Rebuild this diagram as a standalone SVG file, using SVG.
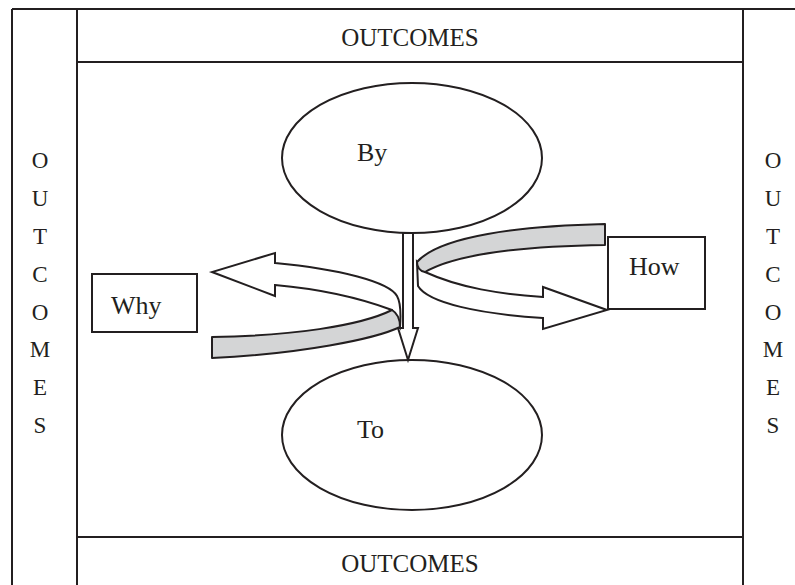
<svg xmlns="http://www.w3.org/2000/svg" width="795" height="585" viewBox="0 0 795 585">
<style>
.ln{stroke:#231f20;stroke-width:2;fill:none}
.shape{stroke:#231f20;stroke-width:2;fill:#fff}
.grey{stroke:#231f20;stroke-width:2;fill:#d4d5d6;stroke-linejoin:round}
.white{stroke:#231f20;stroke-width:2;fill:#fff;stroke-linejoin:miter}
text{font-family:"Liberation Serif","DejaVu Serif",serif;fill:#231f20;font-size:26px}
.v{text-anchor:middle;font-size:23px}
.c{text-anchor:middle;font-size:25px}
</style>
<rect width="795" height="585" fill="#fff"/>
<g id="frame">
<line class="ln" x1="12" y1="9" x2="795" y2="9"/>
<line class="ln" x1="12" y1="9" x2="12" y2="585"/>
<line class="ln" x1="77" y1="9" x2="77" y2="585"/>
<line class="ln" x1="743" y1="9" x2="743" y2="585"/>
<line class="ln" x1="77" y1="62" x2="743" y2="62"/>
<line class="ln" x1="77" y1="537" x2="743" y2="537"/>
</g>
<g id="outcomes-top"><text class="c" x="410" y="46">OUTCOMES</text></g>
<g id="outcomes-bottom"><text class="c" x="410" y="572">OUTCOMES</text></g>
<g id="outcomes-left">
<text class="v" x="40" y="168">O</text>
<text class="v" x="40" y="206">U</text>
<text class="v" x="40" y="244">T</text>
<text class="v" x="40" y="282">C</text>
<text class="v" x="40" y="320">O</text>
<text class="v" x="40" y="357">M</text>
<text class="v" x="40" y="395">E</text>
<text class="v" x="40" y="433">S</text>
</g>
<g id="outcomes-right">
<text class="v" x="773" y="168">O</text>
<text class="v" x="773" y="206">U</text>
<text class="v" x="773" y="244">T</text>
<text class="v" x="773" y="282">C</text>
<text class="v" x="773" y="320">O</text>
<text class="v" x="773" y="357">M</text>
<text class="v" x="773" y="395">E</text>
<text class="v" x="773" y="433">S</text>
</g>
<g id="by">
<ellipse class="shape" cx="412" cy="158" rx="130" ry="75"/>
<text x="357" y="161">By</text>
</g>
<g id="to">
<ellipse class="shape" cx="412" cy="435" rx="130" ry="75"/>
<text x="357" y="438">To</text>
</g>
<g id="why">
<rect class="shape" x="92" y="274" width="105" height="58"/>
<text x="111" y="314">Why</text>
</g>
<g id="how">
<rect class="shape" x="608" y="237" width="97" height="72"/>
<text x="629" y="275">How</text>
</g>
<g id="connectors">
<polygon class="white" points="403,233 413,233 413,328 418,328 408,360 398,328 403,328"/>
<path class="white" d="M392,310 C360,298 320,289 275,285 L275,296 L212,272 L275,253 L275,263 C340,269 389,282 397,296 C401,303 401,314 400,327 Z"/>
<path class="grey" d="M212,337 C290,336 360,326 392,310 C397,313 400,319 400,327 C375,339 300,354 212,358 Z"/>
<path class="white" d="M425,272 C460,288 500,294 543,297 L543,287 L607,310 L543,329 L543,318 C480,314 428,303 418,286 L417,262 Z"/>
<path class="grey" d="M605,224 C520,226 440,236 417,262 C417,268 420,271 425,272 C460,252 530,246 605,245 Z"/>
</g>
</svg>
